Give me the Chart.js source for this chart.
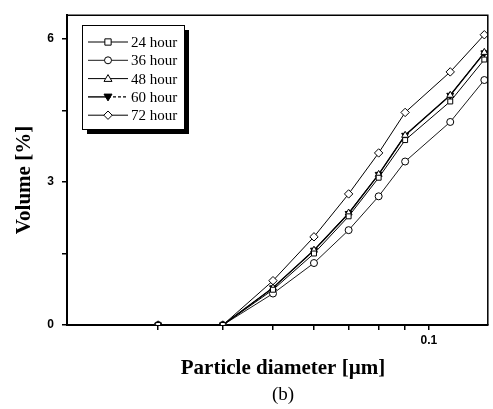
<!DOCTYPE html>
<html>
<head>
<meta charset="utf-8">
<script src="https://cdn.jsdelivr.net/npm/chart.js@4/dist/chart.umd.min.js"></script>
<style>
  body { margin: 0; background: #fff; }
  canvas { display: block; }
</style>
</head>
<body>
<canvas id="chart" width="493" height="409"></canvas>
<script>
// particle diameter (um) and volume (%) per reaction time
const diameters = [0.03, 0.04, 0.05, 0.06, 0.07, 0.08, 0.09, 0.11, 0.128];
const hour24 = [0, 0, 0.74, 1.50, 2.28, 3.09, 3.88, 4.69, 5.57];
const hour36 = [0, 0, 0.66, 1.30, 1.99, 2.70, 3.43, 4.26, 5.14];
const hour48 = [0, 0, 0.78, 1.57, 2.35, 3.16, 3.98, 4.82, 5.72];
const hour60 = [0, 0, 0.78, 1.57, 2.34, 3.16, 3.98, 4.82, 5.71];
const hour72 = [0, 0, 0.93, 1.85, 2.75, 3.61, 4.46, 5.31, 6.09];
const seriesLabels = ['24 hour', '36 hour', '48 hour', '60 hour', '72 hour'];

const xTicks = [0.03, 0.04, 0.05, 0.06, 0.07, 0.08, 0.09, 0.1];
const xTickLabels = ['', '', '', '', '', '', '', '0.1'];
const yTicks = [0, 1.5, 3, 4.5, 6];
const yTickLabels = ['0', '', '3', '', '6'];

const serif = '"Liberation Serif", "Times New Roman", serif';
const sans = '"Liberation Sans", Arial, sans-serif';

const toPoints = vals => vals.map((v, i) => ({ x: diameters[i], y: v }));

// marker styles, one per series
const markers = [
    { pointStyle: 'rect', pointRadius: 3.5, fill: '#fff', rotation: 0 },
    { pointStyle: 'circle', pointRadius: 3.5, fill: '#fff', rotation: 0 },
    { pointStyle: 'triangle', pointRadius: 4, fill: '#fff', rotation: 0 },
    { pointStyle: 'triangle', pointRadius: 4, fill: '#000', rotation: 180 },
    { pointStyle: 'rectRot', pointRadius: 4.2, fill: '#fff', rotation: 0 }
];
const seriesValues = [hour24, hour36, hour48, hour60, hour72];
const lineWidths = [1, 0.9, 1, 1.4, 1];

const datasets = seriesValues.map((vals, i) => ({
    label: seriesLabels[i],
    data: toPoints(vals),
    borderColor: '#000',
    borderWidth: lineWidths[i],
    backgroundColor: markers[i].fill,
    pointStyle: markers[i].pointStyle,
    pointRadius: markers[i].pointRadius,
    pointRotation: markers[i].rotation,
    pointBackgroundColor: markers[i].fill,
    pointBorderColor: '#000',
    pointBorderWidth: 1,
    tension: 0,
    fill: false
}));

// draws one legend marker by hand
function drawMarker(ctx, m, x, y) {
    const r = m.pointRadius;
    ctx.save();
    ctx.fillStyle = m.fill;
    ctx.strokeStyle = '#000';
    ctx.lineWidth = 1;
    ctx.beginPath();
    if (m.pointStyle === 'rect') {
        ctx.rect(x - r * 0.9, y - r * 0.9, r * 1.8, r * 1.8);
    } else if (m.pointStyle === 'circle') {
        ctx.arc(x, y, r, 0, Math.PI * 2);
    } else if (m.pointStyle === 'triangle') {
        const s = m.rotation === 180 ? -1 : 1;
        ctx.moveTo(x, y - s * r);
        ctx.lineTo(x + r, y + s * r * 0.7);
        ctx.lineTo(x - r, y + s * r * 0.7);
        ctx.closePath();
    } else if (m.pointStyle === 'rectRot') {
        ctx.moveTo(x, y - r);
        ctx.lineTo(x + r, y);
        ctx.lineTo(x, y + r);
        ctx.lineTo(x - r, y);
        ctx.closePath();
    }
    ctx.fill();
    ctx.stroke();
    ctx.restore();
}

const decorations = {
    id: 'decorations',
    afterDraw(chart) {
        const ctx = chart.ctx;
        const a = chart.chartArea;
        ctx.save();

        // top and right frame
        ctx.strokeStyle = '#000';
        ctx.lineWidth = 1.5;
        ctx.beginPath();
        ctx.moveTo(a.left, a.top);
        ctx.lineTo(a.right, a.top);
        ctx.lineTo(a.right, a.bottom);
        ctx.stroke();

        // legend box with drop shadow
        const lx = 82, ly = 25, lw = 102, lh = 104;
        ctx.fillStyle = '#000';
        ctx.fillRect(lx + 5, ly + 5, lw, lh);
        ctx.fillStyle = '#fff';
        ctx.fillRect(lx, ly, lw, lh);
        ctx.lineWidth = 1;
        ctx.strokeRect(lx + 0.5, ly + 0.5, lw, lh);

        ctx.font = '15px ' + serif;
        ctx.textBaseline = 'middle';
        ctx.textAlign = 'left';
        seriesLabels.forEach((label, i) => {
            const y = 42 + i * 18.3;
            ctx.strokeStyle = '#000';
            ctx.lineWidth = lineWidths[i];
            ctx.beginPath();
            ctx.moveTo(88, y);
            ctx.lineTo(108, y);
            ctx.stroke();
            ctx.setLineDash(i === 3 ? [3, 2] : []);
            ctx.beginPath();
            ctx.moveTo(108, y);
            ctx.lineTo(128, y);
            ctx.stroke();
            ctx.setLineDash([]);
            drawMarker(ctx, markers[i], 108, y);
            ctx.fillStyle = '#000';
            ctx.fillText(label, 131, y + 1);
        });

        // axis titles
        ctx.fillStyle = '#000';
        ctx.textAlign = 'center';
        ctx.font = 'bold 21px ' + serif;
        ctx.fillText('Particle diameter [\u00b5m]', 283, 369);
        ctx.font = '19px ' + serif;
        ctx.fillText('(b)', 283, 395);

        ctx.translate(25, 180);
        ctx.rotate(-Math.PI / 2);
        ctx.font = 'bold 21px ' + serif;
        ctx.fillText('Volume [%]', 0, 0);
        ctx.restore();
    }
};

new Chart(document.getElementById('chart'), {
    type: 'line',
    data: { datasets: datasets },
    options: {
        responsive: false,
        animation: false,
        layout: { padding: { top: 11, right: 3, left: 0, bottom: 0 } },
        plugins: {
            legend: { display: false },
            tooltip: { enabled: false }
        },
        scales: {
            x: {
                type: 'logarithmic',
                min: 0.02,
                max: 0.13,
                afterBuildTicks: scale => {
                    scale.ticks = xTicks.map(v => ({ value: v }));
                },
                afterFit: scale => { scale.height = 84; },
                border: { display: true, color: '#000', width: 2 },
                grid: { drawOnChartArea: false, drawTicks: true, tickLength: 5, color: '#000', lineWidth: 1.5 },
                ticks: {
                    autoSkip: false,
                    maxRotation: 0,
                    padding: 3,
                    color: '#000',
                    font: { family: sans, size: 12, weight: 'bold' },
                    callback: (v, i) => xTickLabels[i]
                }
            },
            y: {
                type: 'linear',
                min: 0,
                max: 6.5,
                afterBuildTicks: scale => {
                    scale.ticks = yTicks.map(v => ({ value: v }));
                },
                afterFit: scale => { scale.width = 67; },
                border: { display: true, color: '#000', width: 2 },
                grid: { drawOnChartArea: false, drawTicks: true, tickLength: 5, color: '#000', lineWidth: 1.5 },
                ticks: {
                    autoSkip: false,
                    padding: 8,
                    color: '#000',
                    font: { family: sans, size: 12, weight: 'bold' },
                    callback: (v, i) => yTickLabels[i]
                }
            }
        }
    },
    plugins: [decorations]
});
</script>
</body>
</html>
